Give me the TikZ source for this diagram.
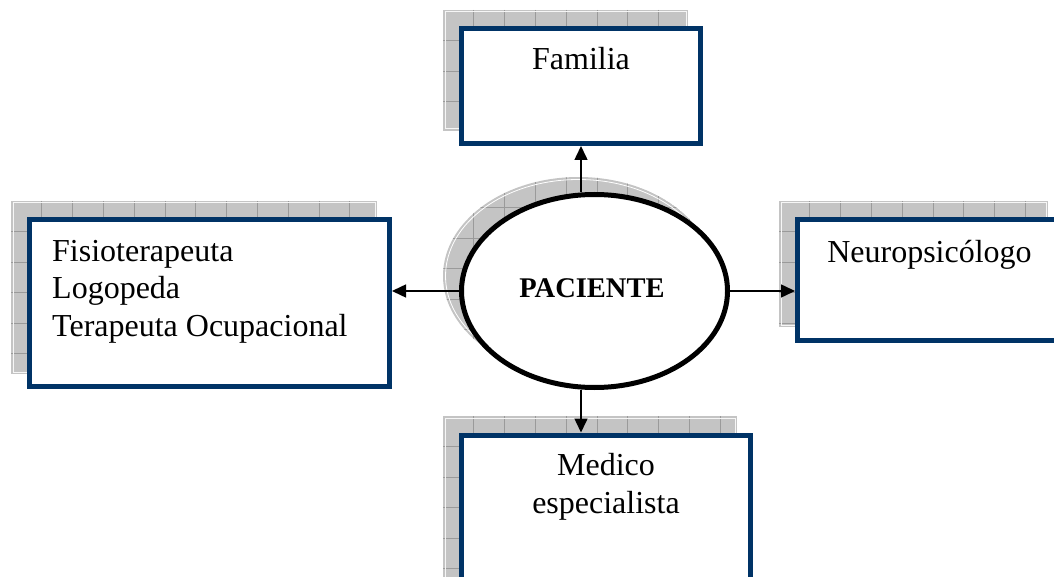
\documentclass[tikz,border=0pt]{standalone}
\usepackage{fontspec}
\setmainfont{Liberation Serif}
\usetikzlibrary{arrows.meta,shapes.geometric}
\definecolor{navy}{HTML}{003366}
\definecolor{shfill}{HTML}{C4C4C4}
\definecolor{shgrid}{HTML}{9A9A9A}
\tikzset{
  box/.style={draw=navy, line width=5pt, fill=white, inner sep=0pt},
  lbl/.style={inner sep=0pt, font=\fontsize{32}{37.5}\selectfont},
  arr/.style={line width=1.5pt, -{Triangle[length=14pt,width=13pt]}},
  gline/.style={draw=shgrid, line width=0.8pt},
}
\newcommand\shadowbox[4]{%
  \begin{scope}
    \clip (#1,#2) rectangle (#3,#4);
    \fill[shfill] (#1,#2) rectangle (#3,#4);
    \foreach \i in {1,...,12} {
      \draw[gline] ({#1+30.8*\i},#2) -- ({#1+30.8*\i},#4);
      \draw[gline] (#1,{#2+30.5*\i}) -- (#3,{#2+30.5*\i});
    }
    \draw[white!85!shfill, line width=1pt] ({#1+2},{#2+2}) rectangle ({#3-2},{#4-2});
  \end{scope}}
\begin{document}
\begin{tikzpicture}[x=1pt, y=-1pt]
\useasboundingbox (0,0) rectangle (1054,577);
% shadows
\shadowbox{443}{10}{688}{131}
\shadowbox{11}{201}{377}{374}
\shadowbox{779}{201}{1048}{327}
\shadowbox{443}{416}{737}{600}
% ellipse shadow
\begin{scope}
  \clip (578.5,276) ellipse [x radius=135.5, y radius=99];
  \fill[shfill] (578.5,276) ellipse [x radius=135.5, y radius=99];
  \foreach \i in {1,...,10} {
    \draw[gline] ({443+30.8*\i},150) -- ({443+30.8*\i},400);
    \draw[gline] (430,{177+30.5*\i}) -- (730,{177+30.5*\i});
  }
  \draw[white, line width=0.8pt] (578.5,276) ellipse [x radius=133, y radius=96.5];
\end{scope}
% boxes
\node[box, minimum width=239pt, minimum height=115pt] (fam) at (581,86) {};
\node[box, minimum width=360pt, minimum height=167pt] (fis) at (209.5,303) {};
\node[box, minimum width=264pt, minimum height=121pt] (neu) at (929.5,280) {};
\node[box, minimum width=289pt, minimum height=170pt] (med) at (606,520) {};
% ellipse
\node[draw=black, line width=5pt, fill=white, ellipse, minimum width=266pt, minimum height=193pt, inner sep=0pt] (pac) at (594.5,291) {};
% labels
\node[lbl, anchor=base] at (581,70) {Familia};
\node[lbl, anchor=base west, align=left] at (52,336) {Fisioterapeuta\\Logopeda\\Terapeuta Ocupacional};
\node[lbl, anchor=base] at (929.5,262) {Neuropsicólogo};
\node[lbl, anchor=base, align=center] at (606,513) {Medico\\especialista};
\node[inner sep=0pt, anchor=base, font=\fontsize{28.5}{33}\selectfont\bfseries] at (592,297) {PACIENTE};
% connectors
\draw[arr] (fam.south |- pac.north) -- (fam.south);
\draw[arr] (fam.south |- pac.south) -- (fam.south |- med.north);
\draw[arr] (pac.west) -- (pac.west -| fis.east);
\draw[arr] (pac.east) -- (pac.east -| neu.west);
\end{tikzpicture}
\end{document}
